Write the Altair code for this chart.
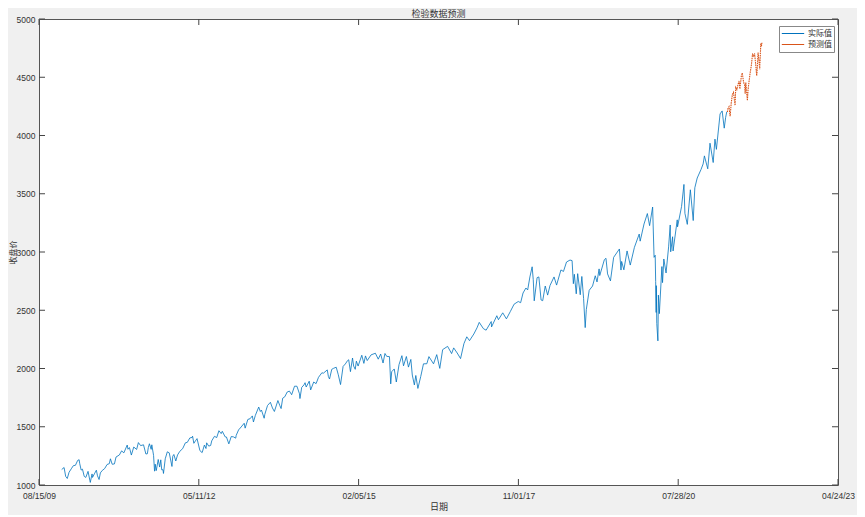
import altair as alt
import pandas as pd

# ---------------- data ----------------
actual_dates = [
    # 2010
    "2010-01-04","2010-01-19","2010-01-29","2010-02-08","2010-02-19","2010-03-05","2010-03-18","2010-03-31",
    "2010-04-14","2010-04-23","2010-04-27","2010-05-06","2010-05-14","2010-05-25","2010-06-04","2010-06-18",
    "2010-06-29","2010-07-02","2010-07-13","2010-07-16","2010-07-30","2010-08-09","2010-08-16","2010-08-26",
    "2010-09-03","2010-09-15","2010-09-30","2010-10-15","2010-10-29","2010-11-05","2010-11-16","2010-11-30",
    "2010-12-10","2010-12-31",
    # 2011
    "2011-01-14","2011-01-28","2011-02-18","2011-02-23","2011-03-04","2011-03-16","2011-03-31","2011-04-18",
    "2011-04-29","2011-05-13","2011-05-31","2011-06-15","2011-06-24","2011-06-30","2011-07-07","2011-07-18",
    "2011-07-22","2011-08-02","2011-08-08","2011-08-10","2011-08-12","2011-08-19","2011-08-31","2011-09-09",
    "2011-09-16","2011-09-22","2011-09-30","2011-10-03","2011-10-14","2011-10-27","2011-11-08","2011-11-25",
    "2011-11-30","2011-12-07","2011-12-19","2011-12-30",
    # 2012
    "2012-01-13","2012-01-31","2012-02-17","2012-02-29","2012-03-16","2012-03-30","2012-04-02","2012-04-10",
    "2012-04-20","2012-04-30","2012-05-18","2012-06-01","2012-06-15","2012-06-25","2012-06-29","2012-07-12",
    "2012-07-24","2012-07-31","2012-08-17","2012-08-31","2012-09-14","2012-09-28","2012-10-05","2012-10-23",
    "2012-10-31","2012-11-15","2012-11-30","2012-12-14","2012-12-28","2012-12-31",
    # 2013
    "2013-01-15","2013-01-31","2013-02-19","2013-02-25","2013-03-14","2013-03-28","2013-04-11","2013-04-18",
    "2013-04-30","2013-05-21","2013-05-31","2013-06-07","2013-06-24","2013-06-28","2013-07-15","2013-08-02",
    "2013-08-15","2013-08-27","2013-09-18","2013-09-30","2013-10-08","2013-10-18","2013-10-31","2013-11-15",
    "2013-11-29","2013-12-13","2013-12-31",
    # 2014
    "2014-01-15","2014-01-31","2014-02-03","2014-02-14","2014-02-28","2014-03-07","2014-03-14","2014-04-02",
    "2014-04-11","2014-04-30","2014-05-15","2014-05-30","2014-06-20","2014-06-30","2014-07-24","2014-07-31",
    "2014-08-07","2014-08-21","2014-09-02","2014-09-18","2014-10-01","2014-10-15","2014-10-31","2014-11-14",
    "2014-11-28","2014-12-05","2014-12-16","2014-12-29",
    # 2015
    "2015-01-05","2015-01-15","2015-01-22","2015-02-02","2015-02-25","2015-03-10","2015-03-20","2015-03-31",
    "2015-04-24","2015-05-21","2015-06-08","2015-06-23","2015-07-08","2015-07-20","2015-07-31","2015-08-17",
    "2015-08-25","2015-08-31","2015-09-16","2015-09-29","2015-10-16","2015-11-03","2015-11-13","2015-12-01",
    "2015-12-14","2015-12-29",
    # 2016
    "2016-01-07","2016-01-20","2016-01-29","2016-02-11","2016-02-29","2016-03-17","2016-04-07","2016-04-20",
    "2016-05-19","2016-06-08","2016-06-27","2016-07-15","2016-08-15","2016-09-09","2016-09-22","2016-10-14",
    "2016-11-04","2016-11-25","2016-12-13","2016-12-30",
    # 2017
    "2017-01-26","2017-02-15","2017-03-01","2017-03-27","2017-04-13","2017-05-15","2017-05-17","2017-06-19",
    "2017-06-29","2017-07-26","2017-08-18","2017-09-11","2017-10-05","2017-10-31","2017-11-15","2017-11-30",
    "2017-12-18","2017-12-29",
    # 2018
    "2018-01-12","2018-01-26","2018-02-02","2018-02-08","2018-02-26","2018-03-09","2018-03-23","2018-04-02",
    "2018-04-18","2018-05-03","2018-05-18","2018-06-12","2018-06-28","2018-07-25","2018-08-10","2018-08-29",
    "2018-09-20","2018-10-03","2018-10-11","2018-10-17","2018-10-29","2018-11-07","2018-11-23","2018-12-03",
    "2018-12-14","2018-12-24","2018-12-31",
    # 2019
    "2019-01-18","2019-02-08","2019-02-25","2019-03-08","2019-03-21","2019-03-25","2019-04-23","2019-05-03",
    "2019-05-13","2019-05-31","2019-06-20","2019-07-26","2019-08-05","2019-08-09","2019-08-23","2019-09-12",
    "2019-10-02","2019-10-28","2019-11-27","2019-12-03","2019-12-27",
    # 2020
    "2020-01-17","2020-01-31","2020-02-19","2020-02-28","2020-03-06","2020-03-09","2020-03-12","2020-03-13",
    "2020-03-16","2020-03-23","2020-03-26","2020-04-01","2020-04-17","2020-04-21","2020-04-29","2020-05-13",
    "2020-05-29","2020-06-08","2020-06-11","2020-06-23","2020-06-26","2020-07-22","2020-07-24","2020-08-18",
    "2020-09-02","2020-09-08","2020-09-23","2020-10-12","2020-10-30","2020-11-09","2020-11-24","2020-12-18",
    "2020-12-31",
    # 2021
    "2021-01-08","2021-01-29","2021-02-12","2021-03-04","2021-03-15","2021-03-24","2021-04-16","2021-04-29",
    "2021-05-12","2021-05-21","2021-05-28",
]
actual_values = [
    # 2010
    1133,1150,1074,1056,1109,1139,1166,1169,1211,1217,1183,1128,1136,1074,1065,1117,
    1041,1022,1095,1065,1102,1127,1079,1047,1104,1125,1141,1176,1183,1225,1178,1181,
    1240,1258,
    # 2011
    1293,1276,1343,1307,1321,1257,1326,1305,1364,1338,1345,1266,1268,1321,1354,1306,
    1345,1254,1119,1121,1179,1124,1219,1154,1216,1130,1131,1099,1225,1285,1276,1159,
    1247,1262,1206,1258,
    # 2012
    1289,1312,1362,1366,1404,1408,1419,1358,1379,1398,1295,1278,1343,1313,1362,1334,
    1339,1379,1418,1407,1466,1441,1461,1413,1412,1353,1416,1413,1402,1426,
    # 2013
    1473,1498,1530,1488,1563,1569,1593,1541,1598,1669,1631,1643,1573,1606,1682,1710,
    1661,1631,1725,1682,1656,1745,1757,1798,1806,1775,1848,
    # 2014
    1848,1783,1742,1838,1859,1878,1841,1891,1816,1884,1870,1924,1963,1960,1988,1931,
    1910,1993,2002,2011,1946,1862,2018,2039,2068,2075,1973,2090,
    # 2015
    2021,1993,2063,2021,2114,2044,2108,2068,2117,2131,2080,2124,2047,2129,2104,2102,
    1868,1972,1996,1884,2033,2110,2023,2103,2012,2078,
    # 2016
    1944,1859,1940,1829,1932,2040,2041,2102,2040,2119,2001,2162,2190,2128,2177,2133,
    2085,2213,2272,2239,
    # 2017
    2296,2349,2396,2342,2329,2403,2357,2453,2419,2478,2426,2488,2552,2575,2565,2648,
    2691,2674,
    # 2018
    2786,2873,2762,2581,2780,2786,2588,2582,2708,2630,2713,2786,2716,2846,2833,2914,
    2931,2926,2728,2809,2641,2814,2633,2790,2600,2351,2507,
    # 2019
    2671,2708,2796,2743,2855,2798,2934,2946,2812,2752,2954,3026,2845,2919,2847,3009,
    2888,3040,3154,3093,3240,
    # 2020
    3330,3226,3386,2954,2972,2747,2481,2711,2386,2237,2630,2471,2875,2737,2940,2820,
    3044,3232,3002,3131,3009,3276,3216,3390,3580,3332,3237,3534,3270,3551,3635,3709,
    3756,
    # 2021
    3825,3714,3934,3768,3969,3881,4185,4211,4063,4156,4204,
]

pred_dates = [
    "2021-06-01","2021-06-04","2021-06-11","2021-06-18","2021-06-25","2021-07-02","2021-07-09","2021-07-19",
    "2021-07-23","2021-07-30","2021-08-06","2021-08-13","2021-08-18","2021-08-27","2021-09-02","2021-09-10",
    "2021-09-17","2021-09-20","2021-09-24","2021-10-04","2021-10-08","2021-10-15","2021-10-22","2021-10-29",
    "2021-11-05","2021-11-12","2021-11-18","2021-11-26","2021-12-01","2021-12-03","2021-12-10","2021-12-17",
    "2021-12-20","2021-12-27","2021-12-31","2022-01-03",
]
pred_values = [
    4202,4230,4247,4166,4281,4352,4370,4258,4412,4395,4437,4468,4400,4509,4537,4458,
    4433,4358,4455,4300,4391,4471,4545,4605,4697,4682,4704,4595,4513,4538,4712,4620,
    4568,4791,4766,4796,
]

series_names = ["实际值", "预测值"]
series_colors = ["#0072BD", "#D95319"]

x_tick_dates = ["2009-08-15", "2012-05-11", "2015-02-05", "2017-11-01", "2020-07-28", "2023-04-24"]
y_tick_values = [1000, 1500, 2000, 2500, 3000, 3500, 4000, 4500, 5000]

# ---------------- chart ----------------
W, H = 799, 466
TXT = "#333333"
CJK = "Noto Sans CJK SC"
LAT = "Liberation Sans"


def dt(s):
    y, m, d = (int(p) for p in s.split("-"))
    return alt.DateTime(year=y, month=m, date=d, utc=True)


actual_df = pd.DataFrame({"date": actual_dates, "value": actual_values, "series": series_names[0]})
pred_df = pd.DataFrame({"date": pred_dates, "value": pred_values, "series": series_names[1]})
xt_df = pd.DataFrame({"date": x_tick_dates})
yt_df = pd.DataFrame({"value": y_tick_values})

x_scale = alt.Scale(type="utc", domain=[dt(x_tick_dates[0]), dt(x_tick_dates[-1])])
y_scale = alt.Scale(domain=[y_tick_values[0], y_tick_values[-1]], nice=False, zero=False)

x_axis = alt.Axis(
    values=[dt(s) for s in x_tick_dates], format="%m/%d/%y", labelFlush=False,
    labelOverlap=False, labelBound=False, ticks=False, domain=False, grid=False,
    labelPadding=6, labelFont=LAT, labelFontSize=8.5, labelColor=TXT,
    title="日期", titleFont=CJK, titleFontSize=9, titleFontWeight="normal",
    titleColor=TXT, titlePadding=3,
)
y_axis = alt.Axis(
    values=y_tick_values, format="d", ticks=False, domain=False, grid=False,
    labelPadding=4, labelFont=LAT, labelFontSize=8.5, labelColor=TXT,
    title="收盘价", titleFont=CJK, titleFontSize=8, titleFontWeight="normal",
    titleColor=TXT, titleAngle=270, titleBaseline="middle", titleAlign="center",
    titleX=-26, titleY=H / 2,
)

x_enc = alt.X("date:T", scale=x_scale, axis=x_axis)
y_enc = alt.Y("value:Q", scale=y_scale, axis=y_axis)

color_enc = alt.Color(
    "series:N",
    scale=alt.Scale(domain=series_names, range=series_colors),
    legend=alt.Legend(
        orient="none", legendX=740, legendY=7, title=None, symbolType="stroke",
        symbolSize=500, symbolStrokeWidth=1, clipHeight=11, labelFont=CJK,
        labelFontSize=8, labelColor=TXT, padding=2, rowPadding=0, labelOffset=3,
        fillColor="white", strokeColor="#888888", cornerRadius=0,
    ),
)

actual_line = alt.Chart(actual_df).mark_line(strokeWidth=0.8).encode(
    x=x_enc, y=y_enc, color=color_enc
)
pred_line = alt.Chart(pred_df).mark_line(strokeWidth=1.1, strokeDash=[1.5, 0.8]).encode(
    x=x_enc, y=y_enc, color=color_enc
)

tick_color = "#444444"
x_ticks_bottom = alt.Chart(xt_df).mark_rule(color=tick_color, strokeWidth=1).encode(
    x=x_enc, y=alt.value(H), y2=alt.value(H - 6)
)
x_ticks_top = alt.Chart(xt_df).mark_rule(color=tick_color, strokeWidth=1).encode(
    x=x_enc, y=alt.value(0), y2=alt.value(6)
)
y_ticks_left = alt.Chart(yt_df).mark_rule(color=tick_color, strokeWidth=1).encode(
    y=y_enc, x=alt.value(0), x2=alt.value(6)
)
y_ticks_right = alt.Chart(yt_df).mark_rule(color=tick_color, strokeWidth=1).encode(
    y=y_enc, x=alt.value(W), x2=alt.value(W - 6)
)

chart = (
    alt.layer(actual_line, pred_line, x_ticks_bottom, x_ticks_top, y_ticks_left, y_ticks_right)
    .properties(
        width=W, height=H,
        title=alt.TitleParams(
            "检验数据预测", font=CJK, fontSize=9, fontWeight="normal", color=TXT,
            offset=0, dy=4,
        ),
        autosize=alt.AutoSizeParams(type="none"),
        padding={"left": 31, "top": 11, "right": 19, "bottom": 30},
        background="#f0f0f0",
    )
    .configure_view(stroke="#555555", strokeWidth=1, fill="white")
)

chart.save("out.html", embed_options={"renderer": "svg", "actions": False})
